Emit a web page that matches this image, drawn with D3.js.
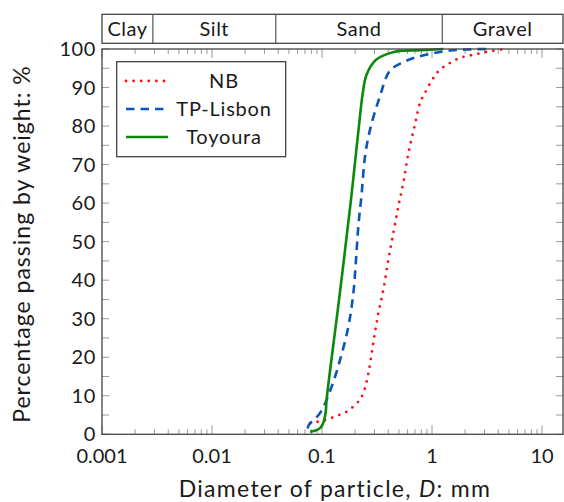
<!DOCTYPE html>
<html>
<head>
<meta charset="UTF-8">
<title>Grain size distribution</title>
<script src="https://cdn.jsdelivr.net/npm/d3@7"></script>
<style>
  body { margin: 0; background: #fff; }
  text { font-family: Lato, "DejaVu Sans", sans-serif; fill: #1a1a1a; }
</style>
</head>
<body>
<div id="chart"></div>
<script>
// particle size (mm) vs percentage passing
const nbD   = [0.078, 0.107, 0.131, 0.168, 0.214, 0.237, 0.264, 0.292, 0.325, 0.361, 0.401, 0.445, 0.494, 0.548, 0.609, 0.70, 0.778, 0.863, 1.03, 1.18, 1.46, 1.80, 2.37, 3.37, 4.6]
const nbP   = [2.9, 3.7, 4.6, 5.9, 8.5, 10.6, 15.8, 23.6, 31.4, 37.5, 45.3, 52.2, 59.1, 65.2, 72.8, 80.4, 86.0, 88.6, 92.5, 94.6, 96.4, 97.7, 98.5, 99.4, 100]

const tpD   = [0.074, 0.0762, 0.0959, 0.1225, 0.1459, 0.1734, 0.1927, 0.2037, 0.2138, 0.2296, 0.246, 0.273, 0.336, 0.415, 0.548, 0.726, 1.03, 1.46, 2.2, 3.4]
const tpP   = [1.5, 2.5, 5.5, 12.4, 19.3, 27.9, 36.6, 45.3, 53.9, 62.6, 72.1, 79.0, 87.7, 94.4, 96.6, 97.9, 98.9, 99.6, 99.9, 100]

const toyD  = [0.078, 0.086, 0.096, 0.1028, 0.108, 0.110, 0.1428, 0.1835, 0.2148, 0.2336, 0.254, 0.31, 0.46, 0.8, 1.27]
const toyP  = [0.7, 0.9, 1.6, 3.0, 5.8, 8.9, 34.9, 60.9, 79.0, 88.1, 93.3, 97.2, 99.3, 99.7, 100]

const seriesNames = ['NB', 'TP-Lisbon', 'Toyoura']
const soilBounds  = [0.0029, 0.038, 1.24]
const soilNames   = ['Clay', 'Silt', 'Sand', 'Gravel']
const xTickVals   = [0.001, 0.01, 0.1, 1, 10]
const xTickLabels = ['0.001', '0.01', '0.1', '1', '10']
const yTickVals   = [0, 10, 20, 30, 40, 50, 60, 70, 80, 90, 100]

const W = 564, H = 502
const pLeft = 102, pRight = 563, pTop = 49, pBottom = 434.3

const svg = d3.select('#chart').append('svg')
  .attr('width', W).attr('height', H)

const x = d3.scaleLog().domain([0.001, 10]).range([pLeft, 542])
const y = d3.scaleLinear().domain([0, 100]).range([pBottom, pTop])
const xMax = x.invert(pRight)

// minor/major ticks along x (bottom and mirrored on top)
const xTicks = []
for (let k = -3; k <= 1; k++) {
  for (let m = 1; m <= 9; m++) {
    const v = m * Math.pow(10, k)
    if (v <= xMax) xTicks.push({ v, major: m === 1 })
  }
}
const tickCol = '#9a9a9a'
svg.append('g').selectAll('line').data(xTicks).join('line')
  .attr('x1', d => x(d.v)).attr('x2', d => x(d.v))
  .attr('y1', pBottom).attr('y2', d => pBottom - (d.major ? 9 : 5))
  .attr('stroke', tickCol).attr('stroke-width', 1)
svg.append('g').selectAll('line').data(xTicks).join('line')
  .attr('x1', d => x(d.v)).attr('x2', d => x(d.v))
  .attr('y1', pTop).attr('y2', d => pTop + (d.major ? 9 : 5))
  .attr('stroke', tickCol).attr('stroke-width', 1)

const yTicks = d3.range(0, 101, 5)
svg.append('g').selectAll('line').data(yTicks).join('line')
  .attr('x1', pLeft).attr('x2', pLeft + 7)
  .attr('y1', d => y(d)).attr('y2', d => y(d))
  .attr('stroke', tickCol)
svg.append('g').selectAll('line').data(yTicks).join('line')
  .attr('x1', pRight).attr('x2', pRight - 7)
  .attr('y1', d => y(d)).attr('y2', d => y(d))
  .attr('stroke', tickCol)

// tick labels
svg.append('g').selectAll('text').data(xTickVals).join('text')
  .attr('x', d => x(d)).attr('y', 463)
  .attr('text-anchor', 'middle').attr('font-size', 20)
  .text((d, i) => xTickLabels[i])
svg.append('g').selectAll('text').data(yTickVals).join('text')
  .attr('x', 96).attr('y', d => y(d) + 7)
  .attr('text-anchor', 'end').attr('font-size', 20)
  .attr('letter-spacing', 0.6)
  .text(d => d)

// curves
const line = d3.line()
  .x(d => x(d[0])).y(d => y(d[1]))
  .curve(d3.curveCatmullRom.alpha(0.5))
const zip = (a, b) => a.map((v, i) => [v, b[i]])

const styles = [
  { color: '#ff1010', dash: '0 7.6', cap: 'round', width: 2.8 },
  { color: '#0b55bd', dash: '8.5 6', cap: 'butt', width: 2.6 },
  { color: '#0a890a', dash: null, cap: 'butt', width: 2.6 }
]
const curves = [zip(nbD, nbP), zip(tpD, tpP), zip(toyD, toyP)]

const plot = svg.append('g')
curves.forEach((c, i) => {
  const s = styles[i]
  plot.append('path')
    .datum(c)
    .attr('d', line)
    .attr('fill', 'none')
    .attr('stroke', s.color)
    .attr('stroke-width', s.width)
    .attr('stroke-linecap', s.cap)
    .attr('stroke-dasharray', s.dash)
})

// frame
svg.append('rect')
  .attr('x', pLeft).attr('y', pTop)
  .attr('width', pRight - pLeft).attr('height', pBottom - pTop)
  .attr('fill', 'none').attr('stroke', '#444').attr('stroke-width', 1.3)

// soil class band
const bandTop = 14.3, bandBot = 43.3
svg.append('rect')
  .attr('x', pLeft).attr('y', bandTop)
  .attr('width', pRight - pLeft).attr('height', bandBot - bandTop)
  .attr('fill', 'none').attr('stroke', '#444').attr('stroke-width', 1.3)
svg.append('g').selectAll('line').data(soilBounds).join('line')
  .attr('x1', d => x(d)).attr('x2', d => x(d))
  .attr('y1', bandTop).attr('y2', bandBot)
  .attr('stroke', '#555').attr('stroke-width', 1.2)
const edges = [pLeft].concat(soilBounds.map(d => x(d)), [pRight])
svg.append('g').selectAll('text').data(soilNames).join('text')
  .attr('x', (d, i) => (edges[i] + edges[i + 1]) / 2)
  .attr('y', 36)
  .attr('text-anchor', 'middle').attr('font-size', 20)
  .attr('letter-spacing', 0.5)
  .text(d => d)

// legend
const lg = svg.append('g')
lg.append('rect')
  .attr('x', 116.7).attr('y', 61.7).attr('width', 169).attr('height', 95)
  .attr('fill', '#fff').attr('stroke', '#333').attr('stroke-width', 1.2)
seriesNames.forEach((name, i) => {
  const s = styles[i]
  const ly = 81 + i * 28
  lg.append('line')
    .attr('x1', 126).attr('x2', 168).attr('y1', ly).attr('y2', ly)
    .attr('stroke', s.color).attr('stroke-width', s.width)
    .attr('stroke-linecap', s.cap).attr('stroke-dasharray', s.dash)
  lg.append('text')
    .attr('x', 224).attr('y', ly + 7)
    .attr('text-anchor', 'middle').attr('font-size', 20)
    .attr('letter-spacing', 0.8)
    .text(name)
})

// axis titles
svg.append('text')
  .attr('x', 335).attr('y', 497)
  .attr('text-anchor', 'middle').attr('font-size', 23)
  .attr('letter-spacing', 1.3)
  .html('Diameter of particle, <tspan font-style="italic">D</tspan>: mm')
svg.append('text')
  .attr('transform', 'translate(30,244) rotate(-90)')
  .attr('text-anchor', 'middle').attr('font-size', 23)
  .attr('letter-spacing', 1.0)
  .text('Percentage passing by weight: %')
</script>
</body>
</html>
